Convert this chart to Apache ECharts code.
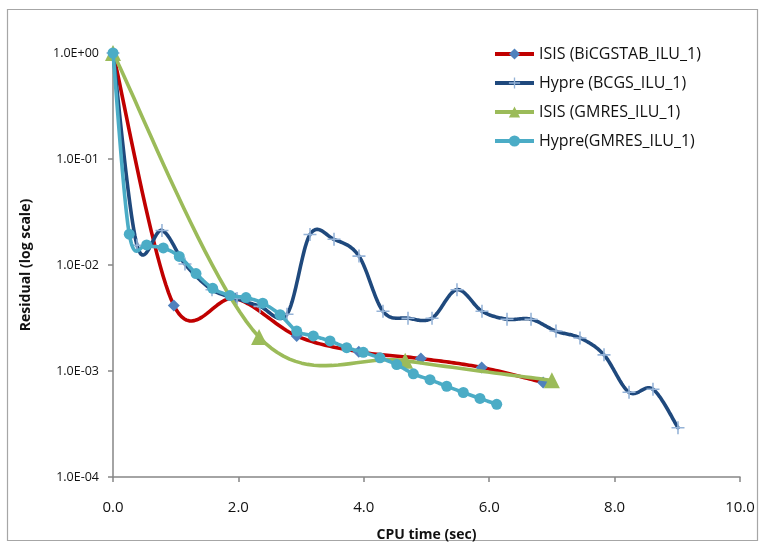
<!DOCTYPE html>
<html>
<head>
<meta charset="utf-8">
<script src="https://cdn.jsdelivr.net/npm/echarts@6/dist/echarts.min.js"></script>
<style>
html,body{margin:0;padding:0;background:#fff;}
#chart{width:765px;height:547px;}
</style>
</head>
<body>
<div id="chart"></div>
<script>
// ---- Data ----
const seriesNames = ['ISIS (BiCGSTAB_ILU_1)', 'Hypre (BCGS_ILU_1)', 'ISIS (GMRES_ILU_1)', 'Hypre(GMRES_ILU_1)'];

const isisBicgTime = [0, 0.97, 1.95, 2.93, 3.92, 4.91, 5.88, 6.86];
const isisBicgRes  = [1, 4.16e-3, 4.83e-3, 2.14e-3, 1.52e-3, 1.31e-3, 1.08e-3, 7.8e-4];

const hypreBcgsTime = [0, 0.383, 0.781, 1.148, 1.579, 1.978, 2.344, 2.775, 3.142, 3.525, 3.923, 4.306, 4.705, 5.088, 5.486, 5.885, 6.284, 6.667, 7.065, 7.448, 7.831, 8.230, 8.612, 9.011];
const hypreBcgsRes  = [1, 0.01535, 0.0212, 0.0102, 0.00585, 0.00483, 0.00407, 0.00343, 0.0194, 0.01746, 0.01213, 0.00366, 0.00315, 0.00315, 0.00585, 0.00366, 0.00308, 0.00308, 0.00238, 0.00205, 0.00142, 6.3e-4, 6.73e-4, 2.92e-4];

const isisGmresTime = [0, 2.33, 4.66, 7.0];
const isisGmresRes  = [1, 2.09e-3, 1.25e-3, 8.16e-4];

const hypreGmresTime = [0, 0.26, 0.537, 0.802, 1.057, 1.324, 1.590, 1.866, 2.121, 2.388, 2.664, 2.930, 3.195, 3.461, 3.727, 3.992, 4.258, 4.525, 4.790, 5.056, 5.322, 5.587, 5.853, 6.12];
const hypreGmresRes  = [1, 0.01955, 0.01545, 0.01448, 0.01205, 0.0083, 0.00602, 0.00515, 0.00493, 0.00436, 0.0034, 0.00238, 0.00214, 0.00192, 0.00166, 0.0015, 0.00133, 0.00115, 9.4e-4, 8.28e-4, 7.18e-4, 6.27e-4, 5.51e-4, 4.85e-4];

const xTickLabels = ['0.0', '2.0', '4.0', '6.0', '8.0', '10.0'];
const yTickLabels = ['1.0E-04', '1.0E-03', '1.0E-02', '1.0E-01', '1.0E+00'];
const xTitle = 'CPU time (sec)';
const yTitle = 'Residual (log scale)';

// ---- Build ----
function pairs(xs, ys){ return xs.map((x,i)=>[x, ys[i]]); }
const FONT = '"Open Sans", "Liberation Sans", sans-serif';
const plusPath = 'path://M4.4,0h1.2v4.4h4.4v1.2h-4.4v4.4h-1.2v-4.4h-4.4v-1.2h4.4z';

const lineColors = ['#C00000', '#1F497D', '#9BBB59', '#4BACC6'];
const markerColors = ['#4F81BD', '#95B3D7', '#9BBB59', '#4BACC6'];
const markerSymbols = ['diamond', plusPath, 'triangle', 'circle'];
const markerSizes = [12, 13, 16, 11];
const seriesData = [
  pairs(isisBicgTime, isisBicgRes),
  pairs(hypreBcgsTime, hypreBcgsRes),
  pairs(isisGmresTime, isisGmresRes),
  pairs(hypreGmresTime, hypreGmresRes)
];
const lineW = 3.6;

// Excel-like smoothed curve (Catmull-Rom style Bezier) in pixel space
function smoothCurve(idx){
  return function(params, api){
    if (params.dataIndex !== 0) return null;
    const pts = seriesData[idx].map(d => api.coord(d));
    const out = [pts[0]];
    const n = pts.length;
    for (let i = 0; i < n - 1; i++){
      const p0 = pts[i > 0 ? i - 1 : i];
      const p1 = pts[i];
      const p2 = pts[i + 1];
      const p3 = pts[i + 2 < n ? i + 2 : i + 1];
      const c1 = [p1[0] + (p2[0] - p0[0]) / 6, p1[1] + (p2[1] - p0[1]) / 6];
      const c2 = [p2[0] - (p3[0] - p1[0]) / 6, p2[1] - (p3[1] - p1[1]) / 6];
      const S = 24;
      for (let k = 1; k <= S; k++){
        const t = k / S, u = 1 - t;
        const a = u*u*u, b = 3*u*u*t, c = 3*u*t*t, d = t*t*t;
        out.push([a*p1[0] + b*c1[0] + c*c2[0] + d*p2[0], a*p1[1] + b*c1[1] + c*c2[1] + d*p2[1]]);
      }
    }
    return {
      type: 'polyline', silent: true,
      shape: {points: out},
      style: {fill: null, stroke: lineColors[idx], lineWidth: lineW, lineJoin: 'round', lineCap: 'round'}
    };
  };
}

const series = [];
for (let i = 0; i < 4; i++){
  series.push({
    type: 'custom', name: 'curve' + i, z: 2 + 2*i,
    data: seriesData[i],
    renderItem: smoothCurve(i),
    silent: true
  });
  series.push({
    name: seriesNames[i], type: 'line', z: 3 + 2*i,
    data: seriesData[i],
    lineStyle: {opacity: 0, color: lineColors[i], width: lineW},
    itemStyle: {color: markerColors[i], opacity: 1},
    symbol: markerSymbols[i], symbolSize: markerSizes[i],
    showAllSymbol: true, showSymbol: true
  });
}

const chart = echarts.init(document.getElementById('chart'), null, {renderer:'canvas'});
chart.setOption({
  animation: false,
  backgroundColor: '#fff',
  graphic: [{
    type: 'rect', silent: true, z: -1,
    shape: {x: 7.5, y: 9.5, width: 750, height: 531},
    style: {fill: 'none', stroke: '#a6a6a6', lineWidth: 1.2}
  }],
  grid: {left: 113, right: 25, top: 53, bottom: 64},
  legend: {
    orient: 'vertical', left: 493, top: 46, padding: 0,
    itemWidth: 39, itemHeight: 14, itemGap: 13,
    textStyle: {fontFamily: FONT, fontSize: 16, color: '#111'},
    data: seriesNames.map((n, i) => ({
      name: n,
      lineStyle: {color: lineColors[i], width: 4, opacity: 1},
      itemStyle: {color: markerColors[i], opacity: 1}
    }))
  },
  xAxis: {
    type: 'value', min: 0, max: 10, interval: 2,
    name: xTitle, nameLocation: 'middle', nameGap: 51,
    nameTextStyle: {fontFamily: FONT, fontSize: 14, fontWeight: 'bold', color: '#111'},
    axisLine: {show: true, lineStyle: {color: '#868686', width: 1.5}},
    axisTick: {show: true, inside: false, length: 5, lineStyle: {color: '#868686', width: 1.5}},
    axisLabel: {fontFamily: FONT, fontSize: 15, color: '#111', margin: 23,
      formatter: v => xTickLabels[Math.round(v/2)]},
    splitLine: {show: false}
  },
  yAxis: {
    type: 'log', logBase: 10, min: 0.0001, max: 1,
    name: yTitle, nameLocation: 'middle', nameGap: 80, nameRotate: 90,
    nameTextStyle: {fontFamily: FONT, fontSize: 14, fontWeight: 'bold', color: '#111'},
    axisLine: {show: true, lineStyle: {color: '#868686', width: 1.5}},
    axisTick: {show: true, inside: false, length: 5, lineStyle: {color: '#868686', width: 1.5}},
    axisLabel: {fontFamily: FONT, fontSize: 12.5, color: '#111', margin: 14,
      formatter: v => yTickLabels[Math.round(Math.log10(v)) + 4]},
    splitLine: {show: false}
  },
  series: series
});
</script>
</body>
</html>
